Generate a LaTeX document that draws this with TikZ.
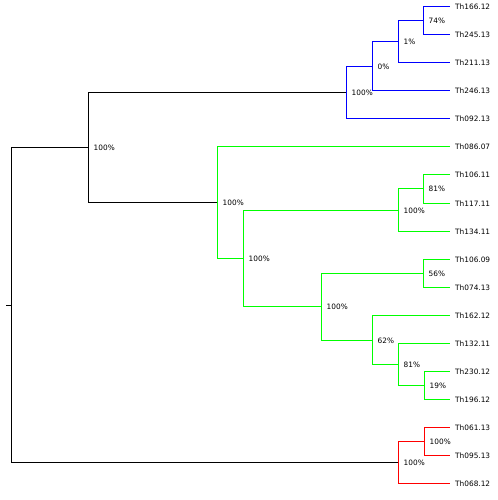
\documentclass[tikz,border=0pt]{standalone}
\usepackage{fontspec}
\setmainfont{DejaVu Sans}
\definecolor{cladeblue}{RGB}{0,0,255}
\definecolor{cladegreen}{RGB}{0,255,0}
\definecolor{cladered}{RGB}{255,0,0}
\begin{document}
\begin{tikzpicture}[x=1bp, y=-1bp]
        \tikzstyle{leaf}=[anchor=west, inner xsep=5bp, inner ysep=1bp, font=\fontsize{7.4}{8}\selectfont]
        \tikzstyle{support}=[anchor=west, inner xsep=5bp, inner ysep=1bp, font=\fontsize{7.4}{8}\selectfont]
        \tikzstyle{branch}=[line width=1bp]
        \useasboundingbox (0, 0) rectangle (498, 500);

        % leaves
        \node[leaf] (th166) at (450, 6.5) {Th166.12};
        \node[leaf] (th245) at (450, 34.5) {Th245.13};
        \node[leaf] (th211) at (450, 62.5) {Th211.13};
        \node[leaf] (th246) at (450, 90.5) {Th246.13};
        \node[leaf] (th092) at (450, 118.5) {Th092.13};
        \node[leaf] (th086) at (450, 146.5) {Th086.07};
        \node[leaf] (th106a) at (450, 174.5) {Th106.11};
        \node[leaf] (th117) at (450, 203.5) {Th117.11};
        \node[leaf] (th134) at (450, 231.5) {Th134.11};
        \node[leaf] (th106b) at (450, 259.5) {Th106.09};
        \node[leaf] (th074) at (450, 287.5) {Th074.13};
        \node[leaf] (th162) at (450, 315.5) {Th162.12};
        \node[leaf] (th132) at (450, 343.5) {Th132.11};
        \node[leaf] (th230) at (450, 371.5) {Th230.12};
        \node[leaf] (th196) at (450, 399.5) {Th196.12};
        \node[leaf] (th061) at (450, 427.5) {Th061.13};
        \node[leaf] (th095) at (450, 455.5) {Th095.13};
        \node[leaf] (th068) at (450, 483.5) {Th068.12};

        % inner nodes
        \node[support] (b74) at (423.5, 20.5) {74\%};
        \node[support] (b1) at (398.5, 41.5) {1\%};
        \node[support] (b0) at (372.5, 66.5) {0\%};
        \node[support] (bclade) at (346.5, 92.5) {100\%};
        \node[support] (top) at (88.5, 147.5) {100\%};
        \node[support] (gclade) at (217.5, 202.5) {100\%};
        \node[support] (g2) at (243.5, 258.5) {100\%};
        \node[support] (g81a) at (423.5, 188.5) {81\%};
        \node[support] (g3) at (398.5, 210.5) {100\%};
        \node[support] (g56) at (423.5, 273.5) {56\%};
        \node[support] (g4) at (321.5, 306.5) {100\%};
        \node[support] (g62) at (372.5, 340.5) {62\%};
        \node[support] (g81b) at (398.5, 364.5) {81\%};
        \node[support] (g19) at (424.5, 385.5) {19\%};
        \node[support] (r2) at (424.5, 441.5) {100\%};
        \node[support] (rclade) at (398.5, 462.5) {100\%};
        \coordinate (root) at (11.5, 305.5);
        \coordinate (base) at (6, 305.5);

        % black part
        \draw[branch] (base) -- (root)
            (root) |- (top.west)
            (root) |- (rclade.west)
            (top.west) |- (bclade.west)
            (top.west) |- (gclade.west);

        % blue clade
        \draw[branch, draw=cladeblue]
            (bclade.west) |- (b0.west)
            (bclade.west) |- (th092.west)
            (b0.west) |- (b1.west)
            (b0.west) |- (th246.west)
            (b1.west) |- (b74.west)
            (b1.west) |- (th211.west)
            (b74.west) |- (th166.west)
            (b74.west) |- (th245.west);

        % green clade
        \draw[branch, draw=cladegreen]
            (gclade.west) |- (th086.west)
            (gclade.west) |- (g2.west)
            (g2.west) |- (g3.west)
            (g2.west) |- (g4.west)
            (g3.west) |- (g81a.west)
            (g3.west) |- (th134.west)
            (g81a.west) |- (th106a.west)
            (g81a.west) |- (th117.west)
            (g4.west) |- (g56.west)
            (g4.west) |- (g62.west)
            (g56.west) |- (th106b.west)
            (g56.west) |- (th074.west)
            (g62.west) |- (th162.west)
            (g62.west) |- (g81b.west)
            (g81b.west) |- (th132.west)
            (g81b.west) |- (g19.west)
            (g19.west) |- (th230.west)
            (g19.west) |- (th196.west);

        % red clade
        \draw[branch, draw=cladered]
            (rclade.west) |- (r2.west)
            (rclade.west) |- (th068.west)
            (r2.west) |- (th061.west)
            (r2.west) |- (th095.west);
    \end{tikzpicture}
\end{document}
